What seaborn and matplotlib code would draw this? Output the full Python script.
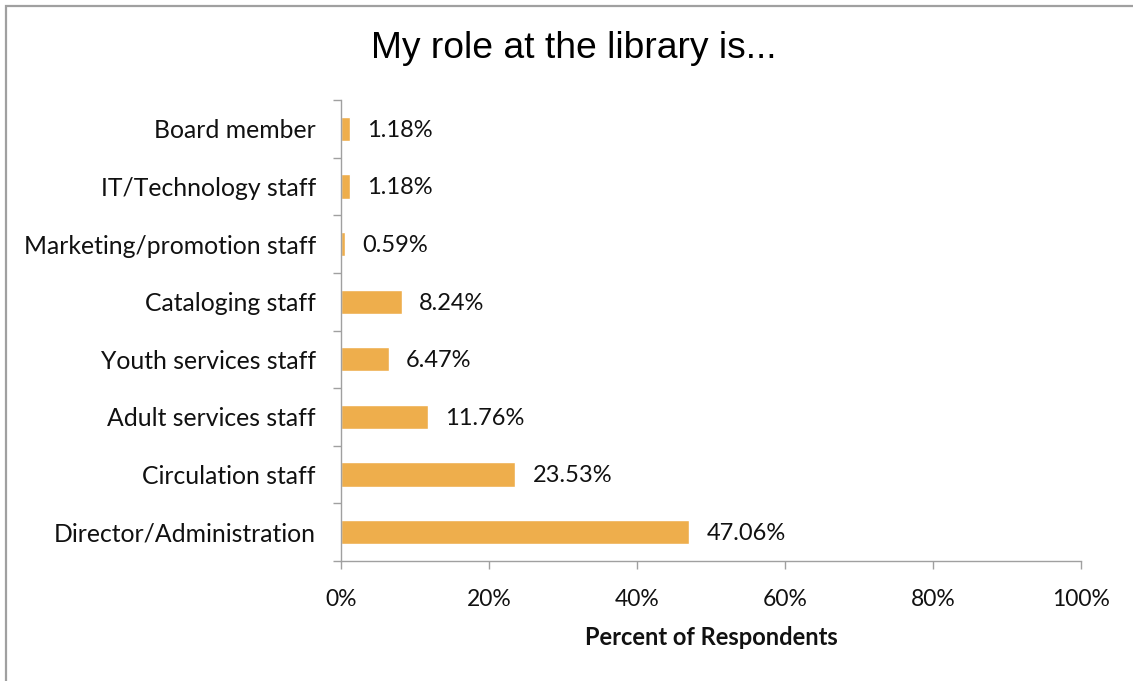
import matplotlib
matplotlib.use("Agg")
import matplotlib.pyplot as plt
from matplotlib.patches import Rectangle
from matplotlib.ticker import FixedLocator, PercentFormatter
import seaborn as sns
import pandas as pd

# Survey responses: share of respondents by role
roles = [
    "Board member",
    "IT/Technology staff",
    "Marketing/promotion staff",
    "Cataloging staff",
    "Youth services staff",
    "Adult services staff",
    "Circulation staff",
    "Director/Administration",
]
percents = [1.18, 1.18, 0.59, 8.24, 6.47, 11.76, 23.53, 47.06]
x_ticks = [0, 20, 40, 60, 80, 100]

df = pd.DataFrame({"role": roles, "percent": percents})

sns.set_theme(style="white")
plt.rcParams["font.family"] = ["Lato", "DejaVu Sans"]

BAR = "#EEAE4C"
AXIS = "#A0A0A0"
TEXT = "#111111"

fig = plt.figure(figsize=(11.33, 6.81), dpi=100)
ax = fig.add_axes([341 / 1133, 1 - 561 / 681, 740 / 1133, 461 / 681])

sns.barplot(data=df, y="role", x="percent", orient="h", color=BAR,
            width=0.42, saturation=1, ax=ax, order=roles)

ax.set_xlim(0, 100)
ax.set_ylim(len(roles) - 0.5, -0.5)

for i, v in enumerate(percents):
    ax.annotate(f"{v:.2f}%", xy=(v, i), xytext=(12.5, -1),
                textcoords="offset points", va="center", ha="left",
                fontsize=17, color=TEXT)

# Axes styling
for side in ["top", "right"]:
    ax.spines[side].set_visible(False)
for side in ["left", "bottom"]:
    ax.spines[side].set_color(AXIS)
    ax.spines[side].set_linewidth(1.0)

ax.xaxis.set_major_locator(FixedLocator(x_ticks))
ax.xaxis.set_major_formatter(PercentFormatter(decimals=0))
ax.tick_params(axis="x", which="major", direction="out", length=6,
               color=AXIS, width=1.0, labelsize=16.5, pad=14,
               labelcolor=TEXT, bottom=True)

ax.set_yticks(range(len(roles)))
ax.set_yticklabels(roles)
ax.yaxis.set_minor_locator(FixedLocator([k - 0.5 for k in range(len(roles) + 1)]))
ax.tick_params(axis="y", which="major", length=0, labelsize=17.8, pad=18,
               labelcolor=TEXT)
ax.tick_params(axis="y", which="minor", direction="out", length=6,
               color=AXIS, width=1.0, left=True)

ax.set_ylabel("")
ax.set_xlabel("Percent of Respondents", fontsize=17, fontweight="bold",
              color=TEXT, labelpad=12)

fig.text(574 / 1133, 1 - 48 / 681, "My role at the library is...",
         ha="center", va="center", fontsize=26.8,
         family=["Liberation Sans", "DejaVu Sans"], color="#000000")

# Frame around the chart area
fig.patches.append(Rectangle((6 / 1133, -0.2), 1.5, 1.2 - 5.5 / 681,
                             transform=fig.transFigure, fill=False,
                             edgecolor="#A0A0A0", linewidth=1.6,
                             clip_on=False))

fig.savefig("out.png", dpi=100, facecolor="white")
